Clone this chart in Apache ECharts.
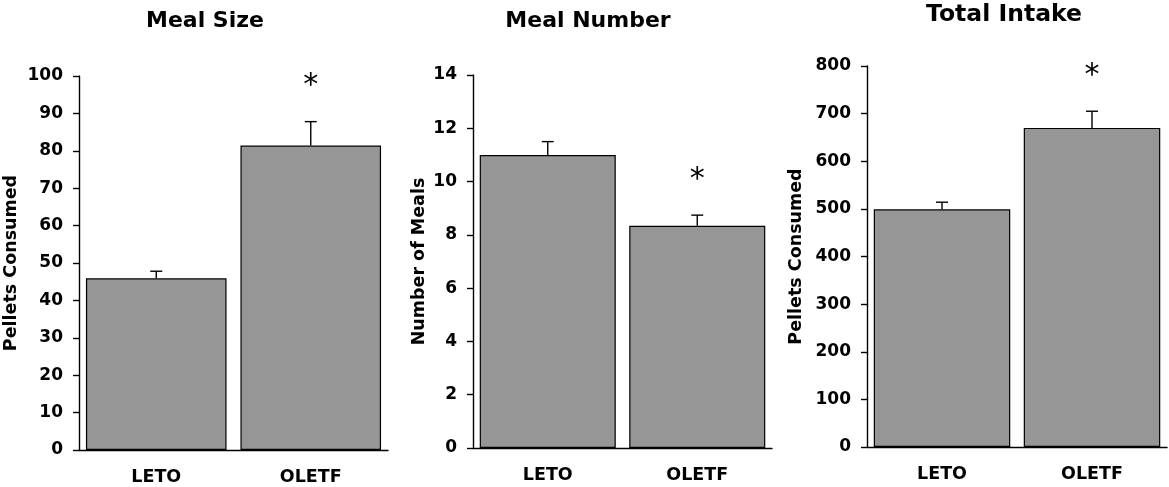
<!DOCTYPE html>
<html>
<head>
<meta charset="utf-8">
<script src="https://cdn.jsdelivr.net/npm/echarts@6/dist/echarts.min.js"></script>
<style>
  html, body { margin: 0; padding: 0; background: #fff; }
  #main { width: 1169px; height: 487px; }
</style>
</head>
<body>
<div id="main"></div>
<script>
const categories = ['LETO', 'OLETF'];
const significance = ['', '*'];

// meal size (pellets consumed)
const mealSize = [45.9, 81.4];
const mealSizeErr = [1.9, 6.4];
// number of meals
const mealNumber = [11.0, 8.34];
const mealNumberErr = [0.5, 0.4];
// total intake (pellets consumed)
const totalIntake = [499, 670];
const totalIntakeErr = [15, 35];

const titles = ['Meal Size', 'Meal Number', 'Total Intake'];
const yNames = ['Pellets Consumed', 'Number of Meals', 'Pellets Consumed'];
const yMax = [100, 14, 800];
const yStep = [10, 2, 100];

const FONT = 'DejaVu Sans';

const chart = echarts.init(document.getElementById('main'));

const grids = [
  { left: 79, top: 76, width: 309, height: 374 },
  { left: 473, top: 75, width: 299, height: 373 },
  { left: 867, top: 66, width: 300, height: 381 }
];
const nameGaps = [59, 45, 62];
const titlePos = [
  { x: 200, y: 5, size: 22 },
  { x: 583, y: 5, size: 22 },
  { x: 999, y: -2, size: 23.5 }
];

const means = [mealSize, mealNumber, totalIntake];
const errs = [mealSizeErr, mealNumberErr, totalIntakeErr];

function errorBarItem(params, api) {
  const i = api.value(0);
  const top = api.coord([i, api.value(1)]);
  const hi = api.coord([i, api.value(1) + api.value(2)]);
  const children = [
    { type: 'line', shape: { x1: top[0], y1: top[1], x2: hi[0], y2: hi[1] },
      style: { stroke: '#000', lineWidth: 1.4 } },
    { type: 'line', shape: { x1: hi[0] - 6, y1: hi[1], x2: hi[0] + 6, y2: hi[1] },
      style: { stroke: '#000', lineWidth: 1.4 } }
  ];
  if (significance[i]) {
    children.push({
      type: 'text',
      style: { text: significance[i], x: hi[0], y: hi[1] - 35, align: 'center',
               verticalAlign: 'middle', fontSize: 30, fontFamily: FONT, fill: '#000' }
    });
  }
  return { type: 'group', children: children };
}

const option = {
  backgroundColor: '#fff',
  animation: false,
  title: titles.map((t, k) => ({
    text: t,
    left: titlePos[k].x,
    top: titlePos[k].y,
    textAlign: 'center',
    textStyle: { fontFamily: FONT, fontWeight: 'bold', fontSize: titlePos[k].size, color: '#000' }
  })),
  grid: grids,
  xAxis: grids.map((g, k) => ({
    type: 'category',
    gridIndex: k,
    data: categories,
    axisLine: { lineStyle: { color: '#000', width: 1.4 } },
    axisTick: { length: 6, lineStyle: { color: '#000', width: 1.4 } },
    axisLabel: { margin: 18, color: '#000', fontFamily: FONT, fontWeight: 'bold', fontSize: 17.5 }
  })),
  yAxis: grids.map((g, k) => ({
    type: 'value',
    gridIndex: k,
    min: 0,
    max: yMax[k],
    interval: yStep[k],
    name: yNames[k],
    nameLocation: 'middle',
    nameGap: nameGaps[k],
    nameTextStyle: { color: '#000', fontFamily: FONT, fontWeight: 'bold', fontSize: 17.5 },
    axisLine: { show: true, lineStyle: { color: '#000', width: 1.4 } },
    axisTick: { show: true, length: 6, lineStyle: { color: '#000', width: 1.4 } },
    splitLine: { show: false },
    axisLabel: { margin: 16, color: '#000', fontFamily: FONT, fontWeight: 'bold', fontSize: 17 }
  })),
  series: []
};

means.forEach((m, k) => {
  option.series.push({
    type: 'bar',
    xAxisIndex: k,
    yAxisIndex: k,
    data: m,
    barCategoryGap: '9%',
    itemStyle: { color: '#969696', borderColor: '#000', borderWidth: 1.2 }
  });
  option.series.push({
    type: 'custom',
    xAxisIndex: k,
    yAxisIndex: k,
    renderItem: errorBarItem,
    data: m.map((v, i) => [i, v, errs[k][i]]),
    z: 5
  });
});

chart.setOption(option);
</script>
</body>
</html>
